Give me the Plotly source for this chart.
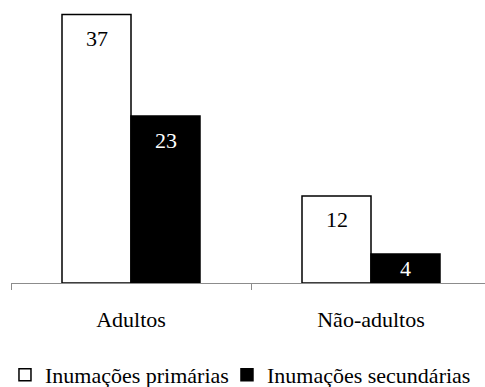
import plotly.graph_objects as go

# Burial counts by age group
categories = ["Adultos", "Não-adultos"]
primarias = [37, 12]
secundarias = [23, 4]
series_names = ["Inumações primárias", "Inumações secundárias"]

FONT = "Liberation Serif"
PX_PER_UNIT = 7.25      # vertical scale of the plot area
BAR_W = 0.2875          # width of one bar in category units
LABEL_DROP = 24         # label distance below the top of the bar

fig = go.Figure()
fig.add_trace(go.Bar(
    name=series_names[0], x=categories, y=primarias,
    marker=dict(color="white", line=dict(color="black", width=1.5)),
    legendwidth=177,
))
fig.add_trace(go.Bar(
    name=series_names[1], x=categories, y=secundarias,
    marker=dict(color="black", line=dict(color="black", width=1.5)),
    legendwidth=220,
))

# value labels placed inside each bar, near its top
for vals, col, off in [(primarias, "black", -BAR_W / 2),
                       (secundarias, "white", BAR_W / 2)]:
    for i, v in enumerate(vals):
        drop = min(LABEL_DROP, v * PX_PER_UNIT / 2)
        fig.add_annotation(
            x=i + off, y=v, text=str(v), showarrow=False,
            yshift=-drop, font=dict(family=FONT, size=22, color=col),
        )

fig.update_layout(
    width=485, height=387,
    margin=dict(l=11, r=0, t=0, b=104, autoexpand=False),
    paper_bgcolor="white", plot_bgcolor="white",
    barmode="group", bargap=0.425, bargroupgap=0,
    font=dict(family=FONT, size=22, color="black"),
    legend=dict(
        orientation="h", x=-0.0127, xanchor="left", y=-0.251, yanchor="top",
        font=dict(family=FONT, size=22, color="black"),
        bgcolor="rgba(0,0,0,0)",
    ),
)
fig.update_xaxes(
    range=[-0.5, 1.475], showline=True, linecolor="#8c8c8c", linewidth=1,
    ticks="outside", tickson="boundaries", ticklen=6, tickcolor="#8c8c8c",
    showgrid=False, ticklabelstandoff=17,
    tickfont=dict(family=FONT, size=22, color="black"),
)
fig.update_yaxes(range=[0, 39], visible=False, showgrid=False)

fig.write_html("out.html")
